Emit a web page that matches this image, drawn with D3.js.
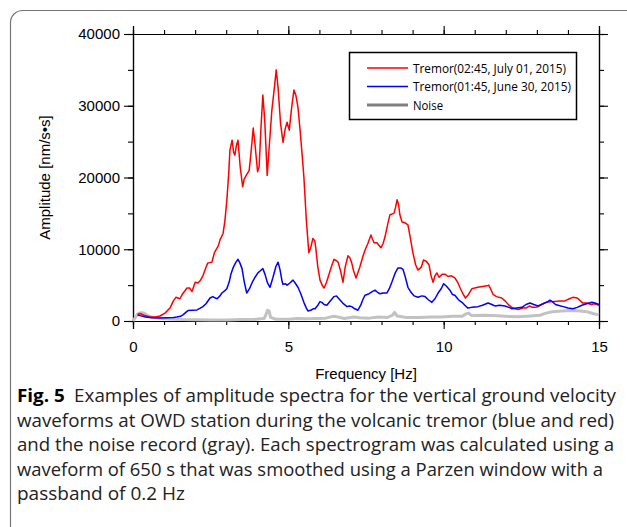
<!DOCTYPE html>
<html>
<head>
<meta charset="utf-8">
<script src="https://cdn.jsdelivr.net/npm/d3@7/dist/d3.min.js"></script>
<style>
  html, body { margin: 0; padding: 0; background: #fff; }
  svg { display: block; }
</style>
</head>
<body>
<svg id="fig" width="627" height="527"></svg>
<script>
// Amplitude spectra: [frequency (Hz), amplitude (nm/s·s)]
const tremorJuly01 = [[0.15,900],[0.23,1050],[0.35,800],[0.55,550],[0.75,600],[0.87,700],[1.03,1100],[1.19,1800],[1.3,2800],[1.38,3300],[1.51,3100],[1.6,3800],[1.74,4600],[1.82,4600],[1.9,4100],[2.0,5400],[2.09,5300],[2.16,5600],[2.25,6300],[2.35,7500],[2.41,8100],[2.54,8200],[2.62,9500],[2.67,9900],[2.75,10500],[2.8,11300],[2.9,12200],[2.96,14000],[3.02,16800],[3.08,20500],[3.12,23800],[3.19,25200],[3.24,23500],[3.28,23100],[3.33,24500],[3.38,25200],[3.45,21500],[3.53,18700],[3.58,19800],[3.66,20400],[3.74,21000],[3.8,23500],[3.87,26900],[3.93,24500],[4.01,20800],[4.06,21500],[4.12,27000],[4.18,31500],[4.24,28000],[4.32,20300],[4.38,24000],[4.47,29400],[4.55,32500],[4.61,35000],[4.67,32500],[4.75,27500],[4.83,24900],[4.9,26800],[4.96,27700],[5.03,26600],[5.1,29500],[5.18,32200],[5.24,31500],[5.31,29800],[5.38,26500],[5.44,23400],[5.5,20100],[5.58,14000],[5.66,9500],[5.72,10200],[5.79,11500],[5.85,11200],[5.88,10300],[5.95,7500],[6.02,5700],[6.1,4900],[6.15,4600],[6.22,5300],[6.28,6100],[6.38,7500],[6.47,8600],[6.55,8400],[6.6,8200],[6.68,7000],[6.76,5400],[6.83,7500],[6.92,9100],[6.98,8800],[7.04,8100],[7.1,7000],[7.18,6000],[7.3,7500],[7.4,9000],[7.47,9900],[7.56,10800],[7.66,12000],[7.7,11500],[7.76,10900],[7.85,10900],[7.98,10200],[8.05,10800],[8.11,11700],[8.2,13500],[8.27,14800],[8.4,15000],[8.45,15800],[8.5,16900],[8.55,16200],[8.59,14800],[8.66,13800],[8.75,13700],[8.85,13400],[8.93,11500],[9.01,9500],[9.1,7800],[9.17,7100],[9.28,7500],[9.35,8500],[9.45,8300],[9.53,7800],[9.6,6200],[9.66,5400],[9.72,6300],[9.78,6700],[9.85,6100],[9.95,6500],[10.05,6500],[10.14,6200],[10.25,6300],[10.36,6000],[10.45,5400],[10.52,4700],[10.62,3800],[10.7,3200],[10.8,3700],[10.91,4500],[11.0,4600],[11.1,4700],[11.25,4800],[11.4,4900],[11.45,5000],[11.52,4400],[11.59,3700],[11.7,3400],[11.87,3200],[12.0,2700],[12.1,2200],[12.2,1900],[12.3,1700],[12.4,1600],[12.55,1800],[12.65,1800],[12.77,2100],[12.85,1900],[12.94,1900],[13.04,2000],[13.15,2300],[13.3,2600],[13.5,2700],[13.74,2800],[13.9,2800],[14.05,3100],[14.16,3300],[14.3,3200],[14.4,2800],[14.48,2500],[14.6,2500],[14.75,2300],[14.85,2400],[15.0,2200]];

const tremorJune30 = [[0.15,800],[0.23,750],[0.4,550],[0.6,450],[0.87,420],[1.1,450],[1.3,480],[1.41,550],[1.53,650],[1.61,850],[1.7,1200],[1.77,1450],[1.9,1500],[2.06,1550],[2.15,1750],[2.25,2000],[2.35,2400],[2.48,3200],[2.57,3400],[2.65,3200],[2.71,3100],[2.8,3500],[2.86,3900],[2.95,4200],[3.02,4500],[3.1,5500],[3.15,6500],[3.22,7400],[3.3,8100],[3.38,8600],[3.44,8100],[3.51,7300],[3.58,5500],[3.66,3900],[3.75,4500],[3.85,5500],[3.93,6100],[4.02,6700],[4.1,7000],[4.18,7300],[4.25,6500],[4.33,5300],[4.41,4700],[4.5,6000],[4.6,7600],[4.67,8200],[4.73,7200],[4.8,5500],[4.83,5100],[4.9,5200],[4.96,5000],[5.05,5300],[5.15,5700],[5.22,5300],[5.31,4700],[5.4,3800],[5.5,2600],[5.58,1800],[5.63,1400],[5.72,1500],[5.8,1700],[5.86,1700],[5.95,2200],[6.02,2700],[6.08,2600],[6.15,2300],[6.24,2200],[6.35,2800],[6.47,3400],[6.55,3500],[6.65,3000],[6.75,2500],[6.89,2000],[6.97,2100],[7.04,2000],[7.14,1700],[7.24,1500],[7.33,2200],[7.4,3000],[7.47,3600],[7.6,3800],[7.7,4100],[7.79,4300],[7.87,4000],[7.95,3800],[8.05,3900],[8.17,3900],[8.25,4500],[8.34,5500],[8.44,6700],[8.53,7400],[8.62,7400],[8.69,7200],[8.76,6200],[8.85,4700],[8.95,4000],[9.05,3500],[9.17,3300],[9.3,3500],[9.4,3400],[9.5,3000],[9.62,2600],[9.72,3100],[9.82,3900],[9.92,4500],[10.0,5200],[10.1,4800],[10.2,4300],[10.28,3700],[10.36,3600],[10.45,3100],[10.52,2800],[10.59,2600],[10.68,2200],[10.78,1800],[10.9,1900],[11.1,2000],[11.25,2200],[11.43,2500],[11.55,2300],[11.65,2100],[11.8,2200],[11.97,2100],[12.1,1900],[12.2,1700],[12.35,1800],[12.52,1900],[12.65,2300],[12.78,2500],[12.9,2300],[13.04,2100],[13.2,2400],[13.35,2700],[13.42,2900],[13.5,2700],[13.6,2300],[13.68,2200],[13.85,2000],[14.0,1800],[14.16,1700],[14.3,1900],[14.45,2200],[14.6,2400],[14.77,2600],[14.87,2500],[15.0,2300]];

const noise = [[0.0,0],[0.08,500],[0.15,1000],[0.25,1150],[0.35,1100],[0.45,800],[0.6,550],[0.8,400],[1.0,300],[1.3,250],[1.6,200],[2.0,180],[2.5,150],[3.0,150],[3.5,200],[3.9,200],[4.1,300],[4.22,350],[4.28,900],[4.33,1500],[4.38,1400],[4.43,500],[4.6,250],[5.0,250],[5.3,350],[5.6,300],[5.9,350],[6.2,400],[6.45,650],[6.6,550],[6.8,350],[7.1,550],[7.3,450],[7.6,400],[7.9,550],[8.2,500],[8.35,800],[8.42,1200],[8.5,700],[8.8,500],[9.2,500],[9.6,550],[9.9,550],[10.3,650],[10.6,650],[10.72,1000],[10.8,1100],[10.9,750],[11.3,800],[11.6,750],[12.0,650],[12.4,600],[12.8,700],[13.1,800],[13.3,1100],[13.5,1300],[13.8,1400],[14.1,1450],[14.4,1400],[14.6,1300],[14.8,1050],[15.0,850]];

const legendLabels = ["Tremor(02:45, July 01, 2015)", "Tremor(01:45, June 30, 2015)", "Noise"];
const xTickValues = [0, 5, 10, 15];
const yTickValues = [0, 10000, 20000, 30000, 40000];
const captionLines = [
  "Examples of amplitude spectra for the vertical ground velocity",
  "waveforms at OWD station during the volcanic tremor (blue and red)",
  "and the noise record (gray). Each spectrogram was calculated using a",
  "waveform of 650 s that was smoothed using a Parzen window with a",
  "passband of 0.2 Hz"
];

const svg = d3.select("#fig");

// outer panel with rounded corners
svg.append("rect")
  .attr("x", 10.5).attr("y", 10.5)
  .attr("width", 640).attr("height", 530)
  .attr("rx", 12).attr("ry", 12)
  .attr("fill", "none").attr("stroke", "#777").attr("stroke-width", 1.2);

const L = 133, R = 599, T = 34, B = 321;
const x = d3.scaleLinear().domain([0, 15]).range([L, R]);
const y = d3.scaleLinear().domain([0, 40000]).range([B, T]);

const axisFont = "'Liberation Sans', Arial, sans-serif";

function styleAxis(g) {
  g.selectAll("path").attr("stroke", "#000").attr("stroke-width", 1.2);
  g.selectAll("line").attr("stroke", "#000").attr("stroke-width", 1.1);
}

// minor ticks (no labels)
const xMinor = d3.range(0, 16, 1);
const yMinor = d3.range(0, 40001, 5000);

svg.append("g").attr("transform", `translate(0,${B})`)
  .call(d3.axisBottom(x).tickValues(xMinor).tickSize(4).tickFormat(""))
  .call(styleAxis);
svg.append("g").attr("transform", `translate(0,${T})`)
  .call(d3.axisTop(x).tickValues(xMinor).tickSize(4).tickFormat(""))
  .call(styleAxis);
svg.append("g").attr("transform", `translate(${L},0)`)
  .call(d3.axisLeft(y).tickValues(yMinor).tickSize(5).tickFormat(""))
  .call(styleAxis);
svg.append("g").attr("transform", `translate(${R},0)`)
  .call(d3.axisRight(y).tickValues(yMinor).tickSize(5).tickFormat(""))
  .call(styleAxis);

// major ticks
const xb = svg.append("g").attr("transform", `translate(0,${B})`)
  .call(d3.axisBottom(x).tickValues(xTickValues).tickSize(8).tickPadding(12).tickFormat(d3.format("d")))
  .call(styleAxis);
svg.append("g").attr("transform", `translate(0,${T})`)
  .call(d3.axisTop(x).tickValues(xTickValues).tickSize(8).tickFormat(""))
  .call(styleAxis);
const yl = svg.append("g").attr("transform", `translate(${L},0)`)
  .call(d3.axisLeft(y).tickValues(yTickValues).tickSize(9).tickPadding(4).tickFormat(d3.format("d")))
  .call(styleAxis);
svg.append("g").attr("transform", `translate(${R},0)`)
  .call(d3.axisRight(y).tickValues(yTickValues).tickSize(9).tickFormat(""))
  .call(styleAxis);

[xb, yl].forEach(g => g.selectAll("text")
  .attr("font-family", axisFont).attr("font-size", 15).attr("fill", "#000"));

// axis titles
svg.append("text")
  .attr("x", (L + R) / 2).attr("y", 379)
  .attr("text-anchor", "middle")
  .attr("font-family", axisFont).attr("font-size", 15)
  .text("Frequency [Hz]");
svg.append("text")
  .attr("transform", `translate(50,${(T + B) / 2}) rotate(-90)`)
  .attr("text-anchor", "middle")
  .attr("font-family", axisFont).attr("font-size", 15)
  .text("Amplitude [nm/s\u2022s]");

// spectra
const line = d3.line().x(d => x(d[0])).y(d => y(d[1]));
const plot = svg.append("g");
plot.append("path").datum(noise)
  .attr("d", line).attr("fill", "none")
  .attr("stroke", "#c2c2c2").attr("stroke-width", 3).attr("stroke-linejoin", "round");
plot.append("path").datum(tremorJuly01)
  .attr("d", line).attr("fill", "none")
  .attr("stroke", "#ff0000").attr("stroke-width", 1.5).attr("stroke-linejoin", "round");
plot.append("path").datum(tremorJune30)
  .attr("d", line).attr("fill", "none")
  .attr("stroke", "#0000ff").attr("stroke-width", 1.5).attr("stroke-linejoin", "round");

// legend
const legend = svg.append("g");
legend.append("rect")
  .attr("x", 349.5).attr("y", 52.5).attr("width", 227).attr("height", 67)
  .attr("fill", "#fff").attr("stroke", "#000").attr("stroke-width", 1.5);
const legendStyles = [
  { color: "#ff0000", width: 1.3, len: 153 },
  { color: "#0000ff", width: 1.3, len: 158 },
  { color: "#808080", width: 3, len: 30 }
];
legendLabels.forEach((label, i) => {
  const cy = 68 + i * 18.5;
  legend.append("line")
    .attr("x1", 367).attr("x2", 408).attr("y1", cy).attr("y2", cy)
    .attr("stroke", legendStyles[i].color).attr("stroke-width", legendStyles[i].width);
  legend.append("text")
    .attr("x", 413).attr("y", cy + 4.5)
    .attr("font-family", "'Open Sans', 'Noto Sans', sans-serif").attr("font-size", 13)
    .attr("textLength", legendStyles[i].len).attr("lengthAdjust", "spacingAndGlyphs")
    .text(label);
});

// caption
const capFont = "'Open Sans', 'Noto Sans', sans-serif";
const capWidths = [599, 597, 597, 586, 168];
captionLines.forEach((txt, i) => {
  const t = svg.append("text")
    .attr("x", 17).attr("y", 402 + i * 24.5)
    .attr("font-family", capFont).attr("font-size", 17.5).attr("fill", "#222")
    .attr("textLength", capWidths[i]).attr("lengthAdjust", "spacingAndGlyphs");
  if (i === 0) {
    t.append("tspan").attr("font-weight", "bold").attr("fill", "#000").text("Fig. 5");
    t.append("tspan").text("\u2002" + txt);
  } else {
    t.text(txt);
  }
});
</script>
</body>
</html>
